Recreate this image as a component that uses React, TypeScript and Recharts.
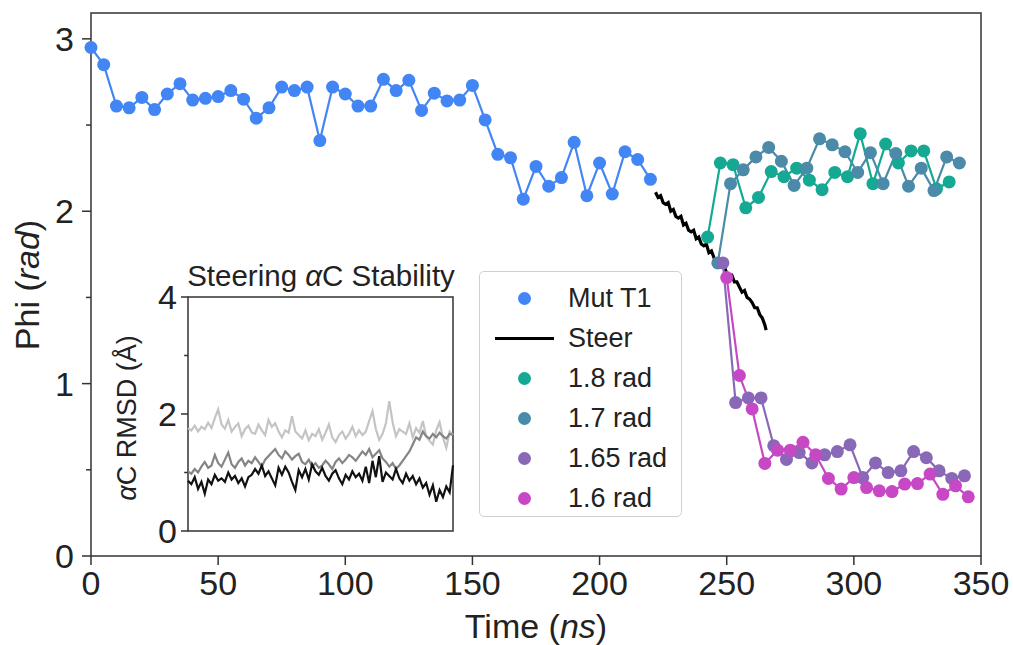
import React from 'react'
import {
  ComposedChart,
  LineChart,
  Line,
  XAxis,
  YAxis,
  ReferenceArea,
} from 'recharts'

const FONT = '"Liberation Sans", Arial, Helvetica, sans-serif'

// Mut T1 (every 5 ns)
const mutT1Times = [
  0, 5, 10, 15, 20, 25, 30, 35, 40, 45, 50, 55, 60, 65, 70, 75, 80, 85, 90, 95, 100,
  105, 110, 115, 120, 125, 130, 135, 140, 145, 150, 155, 160, 165, 170, 175, 180, 185,
  190, 195, 200, 205, 210, 215, 220,
]
const mutT1Phi = [
  2.95, 2.85, 2.61, 2.6, 2.66, 2.59, 2.68, 2.74, 2.645, 2.655, 2.665, 2.7, 2.65, 2.54,
  2.6, 2.72, 2.7, 2.72, 2.41, 2.72, 2.68, 2.61, 2.61, 2.765, 2.7, 2.76, 2.585, 2.685,
  2.64, 2.645, 2.73, 2.53, 2.33, 2.31, 2.07, 2.26, 2.145, 2.195, 2.4, 2.09, 2.28, 2.1,
  2.345, 2.3, 2.185,
]

// Steer
const steerTimes = [
  222, 223, 224, 225, 226, 227, 228, 229, 230, 231, 232, 233, 234, 235, 236, 237, 238,
  239, 240, 241, 242, 243, 244, 245, 246, 247, 248, 249, 250, 251, 252, 253, 254, 255,
  256, 257, 258, 259, 260, 261, 262, 263, 264, 265, 265.5,
]
const steerPhi = [
  2.11, 2.08, 2.09, 2.05, 2.04, 2.05, 2.0, 2.01, 1.97, 1.96, 1.97, 1.92, 1.93, 1.89,
  1.88, 1.89, 1.84, 1.85, 1.81, 1.8, 1.81, 1.76, 1.77, 1.73, 1.71, 1.72, 1.68, 1.68,
  1.64, 1.63, 1.63, 1.59, 1.59, 1.56, 1.53, 1.54, 1.5, 1.49, 1.47, 1.44, 1.44, 1.4,
  1.38, 1.34, 1.31,
]

// 1.8 rad
const r18Times = [
  242.5, 247.5, 252.5, 257.5, 262.5, 267.5, 272.5, 277.5, 282.5, 287.5, 292.5, 297.5,
  302.5, 307.5, 312.5, 317.5, 322.5, 327.5, 332.5, 337.5,
]
const r18Phi = [
  1.85, 2.28, 2.27, 2.02, 2.08, 2.23, 2.2, 2.25, 2.18, 2.125, 2.225, 2.2, 2.45, 2.16,
  2.39, 2.28, 2.35, 2.35, 2.13, 2.17,
]

// 1.7 rad
const r17Times = [
  246.5, 251.5, 256.5, 261.5, 266.5, 271.5, 276.5, 281.5, 286.5, 291.5, 296.5, 301.5,
  306.5, 311.5, 316.5, 321.5, 326.5, 331.5, 336.5, 341.5,
]
const r17Phi = [
  1.7, 2.16, 2.24, 2.315, 2.37, 2.29, 2.15, 2.25, 2.42, 2.385, 2.345, 2.225, 2.34,
  2.16, 2.335, 2.145, 2.25, 2.12, 2.315, 2.28,
]

// 1.65 rad
const r165Times = [
  248.5, 253.5, 258.5, 263.5, 268.5, 273.5, 278.5, 283.5, 288.5, 293.5, 298.5, 303.5,
  308.5, 313.5, 318.5, 323.5, 328.5, 333.5, 338.5, 343.5,
]
const r165Phi = [
  1.7, 0.89, 0.917, 0.917, 0.64, 0.56, 0.6, 0.54, 0.587, 0.606, 0.645, 0.455, 0.54,
  0.484, 0.494, 0.606, 0.57, 0.494, 0.45, 0.465,
]

// 1.6 rad
const r16Times = [
  250, 255, 260, 265, 270, 275, 280, 285, 290, 295, 300, 305, 310, 315, 320, 325, 330,
  335, 340, 345,
]
const r16Phi = [
  1.615, 1.047, 0.853, 0.537, 0.614, 0.614, 0.66, 0.587, 0.45, 0.388, 0.455, 0.397,
  0.378, 0.374, 0.417, 0.42, 0.475, 0.358, 0.407, 0.343,
]

// inset: steering alpha-C RMSD
const rmsdLight = [
  1.76, 1.72, 1.8, 1.7, 1.78, 1.74, 1.85, 1.76, 1.93, 2.08, 1.82, 1.75, 1.9, 1.7, 1.78,
  1.84, 1.62, 1.74, 1.8, 1.68, 1.66, 1.82, 1.72, 1.64, 1.9, 1.78, 1.84, 1.7, 1.6, 1.72,
  1.68, 1.96, 1.7, 1.64, 1.58, 1.72, 1.55, 1.66, 1.62, 1.74, 1.56, 1.68, 1.82, 1.6,
  1.52, 1.64, 1.7, 1.58, 1.66, 1.78, 1.62, 1.72, 1.64, 1.7, 1.88, 2.05, 1.74, 1.56,
  1.66, 1.84, 2.22, 1.86, 1.62, 1.74, 1.7, 1.66, 1.84, 1.6, 1.76, 1.68, 1.88, 1.62,
  1.54, 1.48, 1.72, 1.86, 1.6, 1.42, 1.7, 1.64,
]
const rmsdMid = [
  1.02, 0.98, 1.06, 1.0, 1.1, 1.18, 1.08, 1.12, 1.3, 1.16, 1.1, 1.22, 1.34, 1.14, 1.08,
  1.18, 1.24, 1.12, 1.2, 1.16, 1.26, 1.18, 1.1, 1.22, 1.28, 1.34, 1.4, 1.3, 1.24, 1.36,
  1.3, 1.22, 1.28, 1.32, 1.18, 1.14, 1.22, 1.1, 1.16, 1.08, 1.12, 1.2, 1.14, 1.06, 1.18,
  1.24, 1.16, 1.22, 1.3, 1.26, 1.2, 1.28, 1.36, 1.3, 1.4, 1.26, 1.32, 1.38, 1.24, 1.18,
  1.1, 1.16, 1.06, 1.12, 1.2, 1.28, 1.36, 1.48, 1.6, 1.56, 1.7, 1.62, 1.58, 1.66, 1.6,
  1.68, 1.62, 1.58, 1.66, 1.64,
]
const rmsdDark = [
  0.86, 0.8, 0.92, 0.72, 0.84, 0.64, 0.88, 0.8, 0.96, 0.86, 0.9, 0.84, 1.0, 0.88, 0.94,
  0.82, 0.9, 0.76, 0.92, 0.96, 1.06, 0.98, 1.12, 0.94, 1.02, 0.9, 0.78, 1.08, 0.96,
  1.1, 1.0, 0.84, 0.7, 1.04, 0.92, 1.06, 0.88, 1.14, 1.02, 0.96, 1.08, 0.94, 0.86,
  0.98, 1.04, 0.9, 0.8, 0.96, 0.88, 1.02, 0.92, 0.98, 0.86, 1.1, 0.82, 1.2, 0.92, 1.28,
  0.84, 1.0, 0.94, 0.88, 1.06, 0.9, 0.82, 0.98, 0.86, 0.94, 0.8, 0.9, 0.74, 0.82, 0.62,
  0.78, 0.5, 0.7, 0.58, 0.76, 0.66, 1.12,
]

const xTicks = [0, 50, 100, 150, 200, 250, 300, 350]
const yTicks = [0, 0.5, 1, 1.5, 2, 2.5, 3]
const insetTicks = [0, 1, 2, 3, 4]

const COLORS = {
  mut: '#4285f4',
  steer: '#000000',
  r18: '#15a994',
  r17: '#4b8aa8',
  r165: '#8a68b8',
  r16: '#c748c4',
}

const zip = (ts: number[], vs: number[]) => ts.map((t, i) => ({ t, v: vs[i] }))
const series = [
  { key: 'mut', name: 'Mut T1', data: zip(mutT1Times, mutT1Phi), color: COLORS.mut, dots: true },
  { key: 'steer', name: 'Steer', data: zip(steerTimes, steerPhi), color: COLORS.steer, dots: false },
  { key: 'r18', name: '1.8 rad', data: zip(r18Times, r18Phi), color: COLORS.r18, dots: true },
  { key: 'r17', name: '1.7 rad', data: zip(r17Times, r17Phi), color: COLORS.r17, dots: true },
  { key: 'r165', name: '1.65 rad', data: zip(r165Times, r165Phi), color: COLORS.r165, dots: true },
  { key: 'r16', name: '1.6 rad', data: zip(r16Times, r16Phi), color: COLORS.r16, dots: true },
]

const insetData = rmsdLight.map((v, i) => ({
  i,
  light: v,
  mid: rmsdMid[i],
  dark: rmsdDark[i],
}))

const AXIS = '#333'

// y tick with short minor ticks; x passed in is the text anchor
function makeYTick(size: number, margin: number, fontSize: number, isMajor: (v: number) => boolean) {
  return (props: any) => {
    const { x, y, payload } = props
    const ax = x + size + margin
    const major = isMajor(payload.value)
    return (
      <g>
        <line x1={ax} x2={ax - (major ? size : size * 0.55)} y1={y} y2={y} stroke={AXIS} strokeWidth={1.5} />
        {major && (
          <text x={x} y={y} dy="0.36em" textAnchor="end" fontSize={fontSize} fontFamily={FONT} fill="#222">
            {payload.value}
          </text>
        )}
      </g>
    )
  }
}

function Inset() {
  return (
    <div style={{ position: 'absolute', left: 120, top: 250, width: 350, height: 310 }}>
      <div
        style={{
          position: 'absolute',
          left: 68,
          width: 266,
          top: 9,
          textAlign: 'center',
          fontSize: 29.5,
          fontFamily: FONT,
          color: '#222',
          whiteSpace: 'nowrap',
          display: 'flex',
          justifyContent: 'center',
        }}
      >
        <span>
          Steering <i>α</i>C Stability
        </span>
      </div>
      <div
        style={{
          position: 'absolute',
          left: 7,
          top: 168,
          width: 0,
          height: 0,
          fontSize: 27,
          fontFamily: FONT,
          color: '#222',
          whiteSpace: 'nowrap',
        }}
      >
        <div style={{ transform: 'translate(-50%, -50%) rotate(-90deg)', display: 'inline-block', position: 'absolute' }}>
          <i>α</i>C RMSD (Å)
        </div>
      </div>
      <LineChart width={350} height={310} data={insetData} margin={{ top: 47, right: 17, bottom: 29, left: 28 }}>
        <XAxis dataKey="i" type="number" domain={[0, insetData.length - 1]} hide />
        <YAxis
          width={40}
          type="number"
          domain={[0, 4]}
          ticks={insetTicks}
          axisLine={false}
          tickLine={false}
          tickSize={7}
          tickMargin={4}
          interval={0}
          tick={makeYTick(7, 4, 34, (v) => v % 2 === 0)}
        />
        <ReferenceArea
          x1={0}
          x2={insetData.length - 1}
          y1={0}
          y2={4}
          fill="none"
          stroke={AXIS}
          strokeWidth={1.5}
          ifOverflow="visible"
        />
        <Line dataKey="light" stroke="#c4c4c4" strokeWidth={2.2} dot={false} isAnimationActive={false} />
        <Line dataKey="mid" stroke="#858585" strokeWidth={2.2} dot={false} isAnimationActive={false} />
        <Line dataKey="dark" stroke="#111111" strokeWidth={2.2} dot={false} isAnimationActive={false} />
      </LineChart>
    </div>
  )
}

function LegendBox() {
  return (
    <div
      style={{
        position: 'absolute',
        left: 479,
        top: 271,
        width: 203,
        height: 246,
        border: '1.5px solid #d0d0d0',
        borderRadius: 5,
        background: 'rgba(255,255,255,0.85)',
        boxSizing: 'border-box',
        fontFamily: FONT,
        fontSize: 27,
        color: '#222',
      }}
    >
      {series.map((s, i) => (
        <div
          key={s.key}
          style={{ position: 'absolute', left: 0, top: 6 + i * 40, height: 40, display: 'flex', alignItems: 'center' }}
        >
          <div style={{ width: 88, display: 'flex', justifyContent: 'center' }}>
            {s.dots ? (
              <div style={{ width: 13, height: 13, borderRadius: '50%', background: s.color }} />
            ) : (
              <div style={{ width: 59, height: 3, background: s.color }} />
            )}
          </div>
          <span>{s.name}</span>
        </div>
      ))}
    </div>
  )
}

export default function App() {
  return (
    <div style={{ position: 'absolute', left: 0, top: 0, width: 1013, height: 645, background: '#fff' }}>
      <ComposedChart width={1013} height={645} margin={{ top: 13, right: 32, bottom: 29, left: 31 }}>
        <XAxis
          dataKey="t"
          type="number"
          domain={[0, 350]}
          ticks={xTicks}
          interval={0}
          height={60}
          axisLine={false}
          tickSize={9}
          tickMargin={6}
          tickLine={{ stroke: AXIS, strokeWidth: 1.5 }}
          tick={{ fontSize: 34, fontFamily: FONT, fill: '#222' }}
          label={{
            content: () => (
              <text x={536} y={638} textAnchor="middle" fontSize={34} fontFamily={FONT} fill="#222">
                Time (<tspan fontStyle="italic">ns</tspan>)
              </text>
            ),
          }}
        />
        <YAxis
          width={60}
          type="number"
          domain={[0, 3.15]}
          ticks={yTicks}
          interval={0}
          axisLine={false}
          tickLine={false}
          tickSize={9}
          tickMargin={8}
          tick={makeYTick(9, 8, 34, (v) => Number.isInteger(v))}
          label={{
            content: () => (
              <text
                x={0}
                y={0}
                transform="translate(39, 285) rotate(-90)"
                textAnchor="middle"
                fontSize={34}
                fontFamily={FONT}
                fill="#222"
              >
                Phi (<tspan fontStyle="italic">rad</tspan>)
              </text>
            ),
          }}
        />
        <ReferenceArea
          x1={0}
          x2={350}
          y1={0}
          y2={3.15}
          fill="none"
          stroke={AXIS}
          strokeWidth={1.5}
          ifOverflow="visible"
        />
        {series.map((s) => (
          <Line
            key={s.key}
            data={s.data}
            dataKey="v"
            type="linear"
            stroke={s.color}
            strokeWidth={s.dots ? 2.2 : 3.2}
            dot={s.dots ? { r: 6.5, fill: s.color, stroke: s.color, strokeWidth: 0 } : false}
            activeDot={false}
            isAnimationActive={false}
          />
        ))}
      </ComposedChart>
      <Inset />
      <LegendBox />
    </div>
  )
}
